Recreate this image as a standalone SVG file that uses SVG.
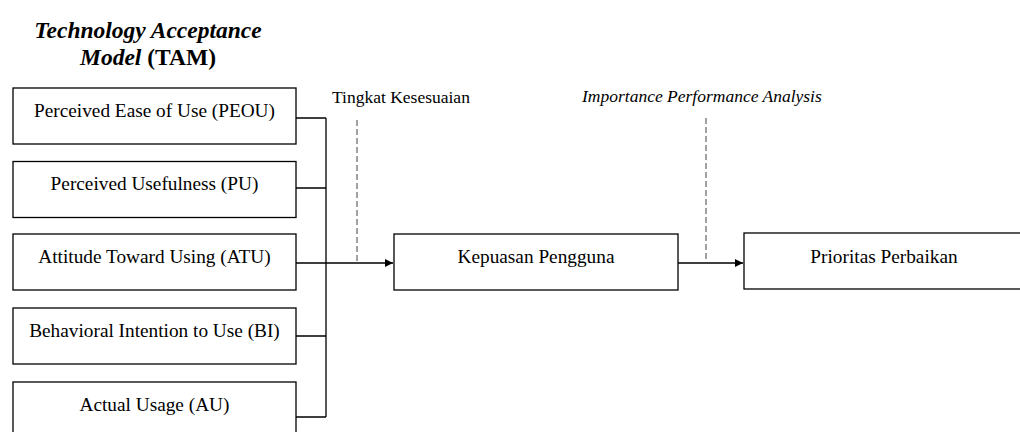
<svg xmlns="http://www.w3.org/2000/svg" width="1020" height="432" viewBox="0 0 1020 432">
<defs>
<marker id="arr" viewBox="0 0 10 10" refX="10" refY="5" markerWidth="10" markerHeight="8" markerUnits="userSpaceOnUse" orient="auto">
<path d="M0,0 L10,5 L0,10 z" fill="#000"/>
</marker>
<style>
.box{fill:#fff;stroke:#000;stroke-width:1.3}
.lbl{font-family:"Liberation Serif","Times New Roman",serif;font-size:19.3px;fill:#000;text-anchor:middle}
.ann{font-family:"Liberation Serif","Times New Roman",serif;font-size:17.5px;fill:#000}
.title{font-family:"Liberation Serif","Times New Roman",serif;font-size:23.5px;font-weight:bold;fill:#000;text-anchor:middle}
.ln{fill:none;stroke:#000;stroke-width:1.3}
.dash{fill:none;stroke:#444;stroke-width:1;stroke-dasharray:6 3}
</style>
</defs>
<rect width="1020" height="432" fill="#fff"/>
<g id="title">
<text class="title" x="148" y="38" font-style="italic">Technology Acceptance</text>
<text class="title" x="148" y="65"><tspan font-style="italic">Model</tspan> (TAM)</text>
</g>
<g id="connectors">
<path class="ln" d="M296,118 H326 M296,188 H326 M296,263 H326 M296,336 H326 M296,417 H326 M326,118 V417"/>
<path class="ln" d="M326,263 H393" marker-end="url(#arr)"/>
<path class="ln" d="M678,263 H743" marker-end="url(#arr)"/>
<path class="dash" d="M357,120 V263"/>
<path class="dash" d="M706,118 V262"/>
<text class="ann" x="332" y="103">Tingkat Kesesuaian</text>
<text class="ann" x="582" y="102" font-style="italic">Importance Performance Analysis</text>
</g>
<g id="peou"><rect class="box" x="13" y="88" width="283" height="56"/><text class="lbl" x="154.5" y="117">Perceived Ease of Use (PEOU)</text></g>
<g id="pu"><rect class="box" x="13" y="161.5" width="283" height="56"/><text class="lbl" x="154.5" y="190">Perceived Usefulness (PU)</text></g>
<g id="atu"><rect class="box" x="13" y="234" width="283" height="56"/><text class="lbl" x="154.5" y="263">Attitude Toward Using (ATU)</text></g>
<g id="bi"><rect class="box" x="13" y="308" width="283" height="56"/><text class="lbl" x="154.5" y="337">Behavioral Intention to Use (BI)</text></g>
<g id="au"><rect class="box" x="13" y="382" width="283" height="56"/><text class="lbl" x="154.5" y="411">Actual Usage (AU)</text></g>
<g id="kepuasan"><rect class="box" x="394" y="234" width="284" height="56"/><text class="lbl" x="536" y="263">Kepuasan Pengguna</text></g>
<g id="prioritas"><rect class="box" x="744" y="233" width="280" height="56"/><text class="lbl" x="884" y="263">Prioritas Perbaikan</text></g>
</svg>
